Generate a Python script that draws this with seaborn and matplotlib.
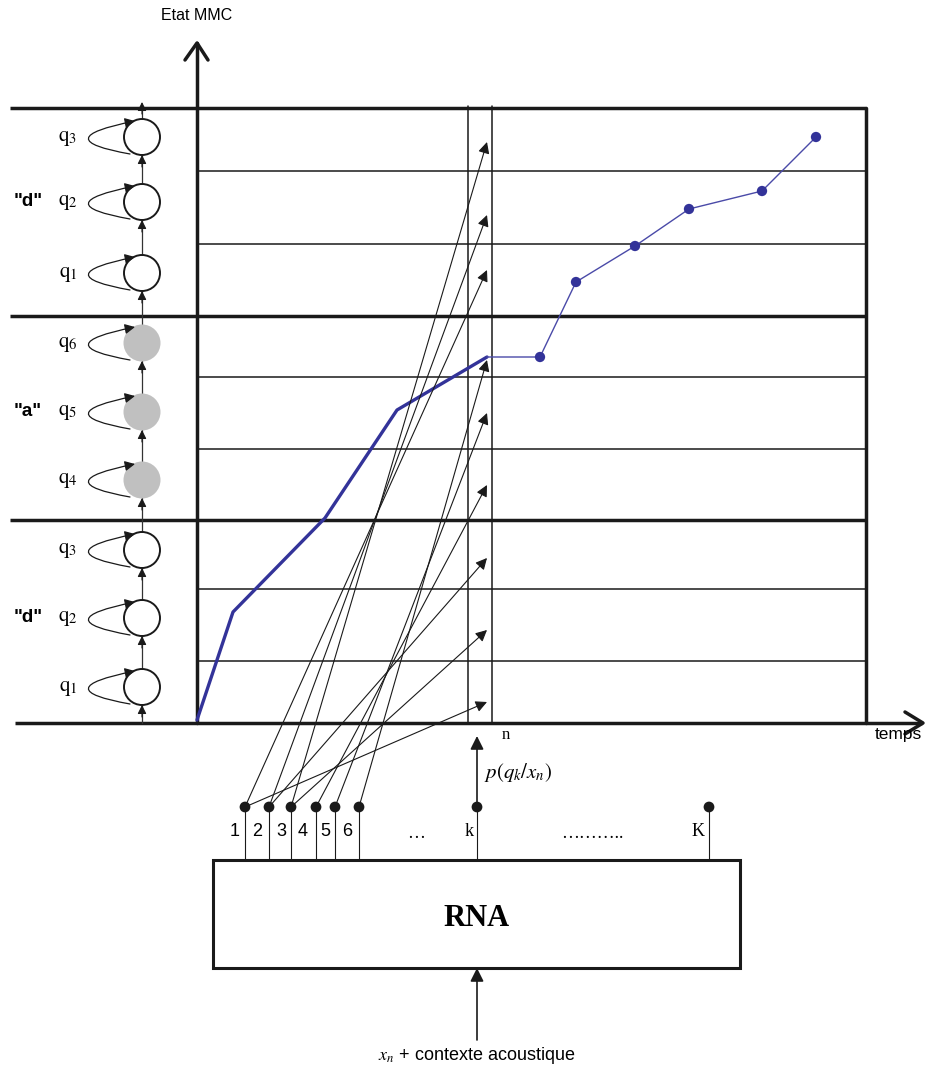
import numpy as np
import matplotlib
matplotlib.use('Agg')
import matplotlib.pyplot as plt
import seaborn as sns
from matplotlib.patches import Circle, Rectangle, FancyArrowPatch
from matplotlib.path import Path

# --- values (pixel space of a 926x1070 canvas) ---
state_labels = [r'$\mathrm{q}_{1}$', r'$\mathrm{q}_{2}$', r'$\mathrm{q}_{3}$',
                r'$\mathrm{q}_{4}$', r'$\mathrm{q}_{5}$', r'$\mathrm{q}_{6}$',
                r'$\mathrm{q}_{1}$', r'$\mathrm{q}_{2}$', r'$\mathrm{q}_{3}$']
state_y = [687, 618, 550, 480, 412, 343, 273, 202, 137]
state_gray = [False, False, False, True, True, True, False, False, False]
phone_labels = ['"d"', '"a"', '"d"']
phone_y = [618, 412, 202]

row_thick = [723, 520, 316, 108]
row_thin = [661, 589, 449, 377, 244, 171]
arrow_y = [702, 630, 558, 485, 413, 360, 270, 215, 142]

node_x = [245, 269, 291, 316, 335, 359]
node_labels = ['1', '2', '3', '4', '5', '6']
node_label_x = [235, 257, 281, 303, 325, 347]
links = [(0, 0), (0, 6), (1, 2), (1, 7), (2, 1), (2, 8), (3, 3), (4, 4), (5, 5)]

path_x = [197, 233, 325, 397, 487]
path_y = [720, 612, 518, 410, 357]
next_x = [487, 540, 576, 635, 689, 762, 816]
next_y = [357, 357, 282, 246, 209, 191, 137]

sns.set_theme(style='white')
plt.rcParams['font.family'] = ['Liberation Sans', 'DejaVu Sans']
plt.rcParams['mathtext.fontset'] = 'stix'
plt.rcParams['text.color'] = 'black'

fig = plt.figure(figsize=(9.26, 10.7), dpi=100)
ax = fig.add_axes([0, 0, 1, 1])
ax.set_xlim(0, 926)
ax.set_ylim(1070, 0)
ax.axis('off')

BLUE = '#333399'
SERIF = 'Liberation Serif'

# grid of states
for y in row_thick[1:]:
    ax.plot([10, 866], [y, y], color='k', lw=2.5, solid_capstyle='butt')
ax.plot([15, 922], [723, 723], color='k', lw=2.5, solid_capstyle='butt')
for y in row_thin:
    ax.plot([197, 866], [y, y], color='k', lw=1.1)
ax.plot([866, 866], [108, 723], color='k', lw=2.5)

# axes with open arrow heads
ax.plot([197, 197], [723, 43], color='k', lw=2.5)
ax.plot([185, 197, 208], [60, 43, 60], color='k', lw=2.5)
ax.plot([905, 923, 905], [712, 723, 734], color='k', lw=2.5)
ax.text(197, 15, 'Etat MMC', ha='center', va='center', fontsize=11.5)
ax.text(922, 735, 'temps', ha='right', va='center', fontsize=12.5)

# frame n
for x in [468, 492]:
    ax.plot([x, x], [106, 723], color='k', lw=1.1)
ax.text(506, 735, 'n', ha='center', va='center', fontsize=12, family=SERIF)

# HMM chain on the left
ax.plot([142, 142], [723, 108], color='#333333', lw=0.9, zorder=2)
ax.annotate('', xy=(142, 102), xytext=(142, 114),
            arrowprops=dict(arrowstyle='-|>', color='k', lw=0.8, mutation_scale=13,
                            shrinkA=0, shrinkB=0), zorder=4)
for lab, cy, g in zip(state_labels, state_y, state_gray):
    if g:
        ax.add_patch(Circle((142, cy), 18.5, facecolor='#c0c0c0', edgecolor='none', zorder=3))
    else:
        ax.add_patch(Circle((142, cy), 18, facecolor='white', edgecolor='k', lw=1.4, zorder=3))
    ax.annotate('', xy=(142, cy + 18), xytext=(142, cy + 30),
                arrowprops=dict(arrowstyle='-|>', color='k', lw=0.8, mutation_scale=13,
                                shrinkA=0, shrinkB=0), zorder=4)
    loop = Path([(130, cy + 17), (45, cy + 2), (135, cy - 16)],
                [Path.MOVETO, Path.CURVE3, Path.CURVE3])
    ax.add_patch(FancyArrowPatch(path=loop, arrowstyle='-|>', mutation_scale=15,
                                 color='k', lw=0.9, zorder=5))
    ax.text(68, cy + 1, lab, ha='center', va='center', fontsize=15)
for lab, py in zip(phone_labels, phone_y):
    ax.text(28, py, lab, ha='center', va='center', fontsize=13.5, fontweight='bold')

# best path (Viterbi)
sns.lineplot(x=path_x, y=path_y, sort=False, color=BLUE, lw=2.4, ax=ax,
             estimator=None)
sns.lineplot(x=next_x, y=next_y, sort=False, color='#4a4aa8', lw=1.0, ax=ax,
             estimator=None)
sns.scatterplot(x=next_x[1:], y=next_y[1:], color=BLUE, s=55, edgecolor='none',
                ax=ax, zorder=6)

# network outputs
node_y = 807
for x in node_x + [477, 709]:
    ax.plot([x, x], [node_y, 860], color='k', lw=0.8)
sns.scatterplot(x=node_x + [477, 709], y=[node_y] * (len(node_x) + 2), color='k',
                s=60, edgecolor='none', ax=ax, zorder=6)
for lab, lx in zip(node_labels, node_label_x):
    ax.text(lx, 832, lab, ha='center', va='center', fontsize=13)
ax.text(416, 834, '…', ha='center', va='center', fontsize=13, family=SERIF)
ax.text(469, 832, 'k', ha='center', va='center', fontsize=13, family=SERIF)
ax.text(592, 834, '………..', ha='center', va='center', fontsize=13, family=SERIF)
ax.text(698, 832, 'K', ha='center', va='center', fontsize=13, family=SERIF)

for ni, si in links:
    ax.annotate('', xy=(487, arrow_y[si]), xytext=(node_x[ni], node_y),
                arrowprops=dict(arrowstyle='-|>', color='k', lw=0.8, mutation_scale=17,
                                shrinkA=0, shrinkB=0), zorder=5)

ax.annotate('', xy=(477, 736), xytext=(477, node_y),
            arrowprops=dict(arrowstyle='-|>', color='k', lw=1.2, mutation_scale=20,
                            shrinkA=0, shrinkB=0))
ax.text(484, 773, r'$p(q_k/x_n)$', ha='left', va='center', fontsize=15)

# RNA block
ax.add_patch(Rectangle((213, 860), 527, 108, facecolor='white', edgecolor='k', lw=2.2))
ax.text(477, 918, 'RNA', ha='center', va='center', fontsize=22, fontweight='bold',
        family=SERIF)
ax.annotate('', xy=(477, 968), xytext=(477, 1040),
            arrowprops=dict(arrowstyle='-|>', color='k', lw=1.2, mutation_scale=20,
                            shrinkA=0, shrinkB=0))
ax.text(477, 1056, r'$x_n$ + contexte acoustique', ha='center', va='center', fontsize=13)

fig.savefig('out.png', dpi=100)
